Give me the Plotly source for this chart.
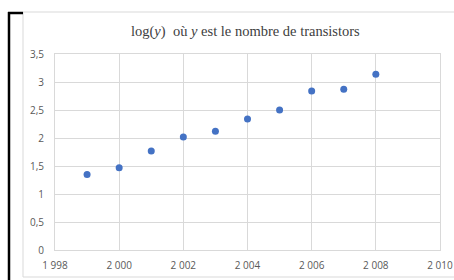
import plotly.graph_objects as go

years = [1999, 2000, 2001, 2002, 2003, 2004, 2005, 2006, 2007, 2008]
log_transistors = [1.35, 1.47, 1.77, 2.02, 2.12, 2.34, 2.50, 2.84, 2.87, 3.14]

x_ticks = [1998, 2000, 2002, 2004, 2006, 2008, 2010]
x_tick_labels = ["1 998", "2 000", "2 002", "2 004", "2 006", "2 008", "2 010"]
y_ticks = [0, 0.5, 1, 1.5, 2, 2.5, 3, 3.5]
y_tick_labels = ["0", "0,5", "1", "1,5", "2", "2,5", "3", "3,5"]

W, H = 454, 280
L, R, T, B = 55, 440, 54, 250

def px(x):
    return (x - L) / (R - L)

def py(y):
    return (B - y) / (B - T)

fig = go.Figure()
fig.add_trace(go.Scatter(
    x=years, y=log_transistors, mode="markers",
    marker=dict(color="#4472C4", size=7),
    hoverinfo="x+y"
))

grey = "#d9d9d9"
shapes = [
    dict(type="rect", xref="paper", yref="paper",
         x0=px(23), x1=px(470), y0=py(277), y1=py(12),
         line=dict(color=grey, width=1), layer="below"),
    dict(type="line", xref="paper", yref="paper",
         x0=px(9), x1=px(9), y0=py(12), y1=py(290),
         line=dict(color="black", width=2.5)),
    dict(type="line", xref="paper", yref="paper",
         x0=px(8), x1=px(23), y0=py(13), y1=py(13),
         line=dict(color="black", width=2.5)),
]

fig.update_layout(
    width=W, height=H,
    margin=dict(l=L, r=W - R, t=T, b=H - B),
    paper_bgcolor="white", plot_bgcolor="white",
    showlegend=False,
    shapes=shapes,
    annotations=[dict(
        text="log(<i>y</i>)  où <i>y</i> est le nombre de transistors",
        xref="paper", yref="paper", x=px(245), y=py(32),
        xanchor="center", yanchor="middle", showarrow=False,
        font=dict(family="Liberation Serif", size=14.5, color="#404040"),
    )],
    xaxis=dict(
        range=[1998, 2010], tickvals=x_ticks, ticktext=x_tick_labels,
        showgrid=True, gridcolor=grey, gridwidth=1,
        zeroline=False, showline=True, linecolor=grey, mirror=True,
        ticks="", ticklabelstandoff=6, automargin=False,
        ticklabeloverflow="allow",
        tickfont=dict(family="Open Sans", size=10, color="#595959"),
        fixedrange=True,
    ),
    yaxis=dict(
        range=[0, 3.5], tickvals=y_ticks, ticktext=y_tick_labels,
        showgrid=True, gridcolor=grey, gridwidth=1,
        zeroline=False, showline=True, linecolor=grey, mirror=True,
        ticks="", ticklabelstandoff=8, automargin=False,
        tickfont=dict(family="Open Sans", size=10, color="#595959"),
        fixedrange=True,
    ),
)

fig.write_html(
    "out.html",
    config={"displayModeBar": False},
    post_script="document.body.style.margin='0';"
                "document.documentElement.style.overflow='hidden';",
)
